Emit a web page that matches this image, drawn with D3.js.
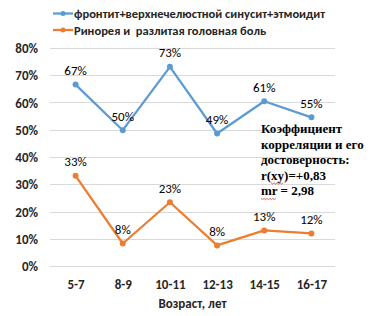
<!DOCTYPE html>
<html><head><meta charset="utf-8">
<script src="https://cdn.jsdelivr.net/npm/d3@7"></script>
<style>body{margin:0;background:#fff}svg{display:block}text{white-space:pre}</style>
</head><body>
<svg id="c" width="372" height="316"></svg>
<script>
const categories = ["5-7","8-9","10-11","12-13","14-15","16-17"];
const seriesNames = ["фронтит+верхнечелюстной синусит+этмоидит","Ринорея и  разлитая головная боль"];
const frontitValues = [0.667, 0.50, 0.732, 0.488, 0.606, 0.547];
const rhinorrheaValues = [0.333, 0.085, 0.236, 0.078, 0.133, 0.122];
const frontitLabels = ["67%","50%","73%","49%","61%","55%"];
const rhinorrheaLabels = ["33%","8%","23%","8%","13%","12%"];
const yTicks = [0,0.1,0.2,0.3,0.4,0.5,0.6,0.7,0.8];
const xTitle = "Возраст, лет";
const noteLines = ["Коэффициент","корреляции и его","достоверность:","r(xy)=+0,83","mr = 2,98"];
const squiggles = [null,null,null,[2,4],[0,2]];
const colors = ["#5B9BD5","#ED7D31"];

const svg = d3.select("#c");
const sans = "Calibri, Carlito, 'Open Sans', 'Liberation Sans', sans-serif";
const x = d3.scalePoint().domain(categories).range([52,335]).padding(0.5);
const y = d3.scaleLinear().domain([0,0.8]).range([266.7,48.3]);

svg.append("g").selectAll("line").data(yTicks).join("line")
  .attr("x1",50).attr("x2",335).attr("y1",d=>y(d)).attr("y2",d=>y(d))
  .attr("stroke","#d9d9d9").attr("stroke-width",1).attr("shape-rendering","crispEdges");

const ya = svg.append("g").attr("transform","translate(38,0)")
  .call(d3.axisLeft(y).tickValues(yTicks).tickFormat(d3.format(".0%")).tickSize(0).tickPadding(0));
ya.select(".domain").remove();
ya.selectAll("text").attr("font-family",sans).attr("font-size",13).attr("font-weight","bold").attr("fill","#262626");

const xa = svg.append("g").attr("transform","translate(0,279.5)")
  .call(d3.axisBottom(x).tickSize(0).tickPadding(0));
xa.select(".domain").remove();
xa.selectAll("text").attr("font-family",sans).attr("font-size",13).attr("font-weight","bold").attr("fill","#262626");

svg.append("text").attr("x",192.5).attr("y",307.5).attr("text-anchor","middle")
  .attr("font-family",sans).attr("font-size",13).attr("font-weight","bold").attr("fill","#262626").text(xTitle);

const series = [frontitValues, rhinorrheaValues];
const labels = [frontitLabels, rhinorrheaLabels];
const line = d3.line().x((d,i)=>x(categories[i])).y(d=>y(d));
series.forEach((vals,s)=>{
  const g = svg.append("g");
  g.append("path").attr("d",line(vals)).attr("fill","none").attr("stroke",colors[s]).attr("stroke-width",2.25).attr("stroke-linejoin","round");
  g.selectAll("circle").data(vals).join("circle").attr("cx",(d,i)=>x(categories[i])).attr("cy",d=>y(d)).attr("r",3).attr("fill",colors[s]);
  g.selectAll("text").data(vals).join("text").attr("x",(d,i)=>x(categories[i])).attr("y",d=>y(d)-9.5)
    .attr("text-anchor","middle").attr("font-family",sans).attr("font-size",13).attr("fill","#000")
    .text((d,i)=>labels[s][i]);
});

const lg = svg.append("g");
seriesNames.forEach((n,i)=>{
  const yy = 13.5 + i*16.5;
  lg.append("line").attr("x1",53).attr("x2",73).attr("y1",yy).attr("y2",yy).attr("stroke",colors[i]).attr("stroke-width",2.25);
  lg.append("circle").attr("cx",63).attr("cy",yy).attr("r",2.5).attr("fill",colors[i]);
  lg.append("text").attr("x",74).attr("y",yy+4.5).attr("font-family",sans).attr("font-size",12.5).attr("font-weight","bold").attr("fill","#262626").text(n);
});

const note = svg.append("g");
noteLines.forEach((t,i)=>{
  const by = 133+i*15.6;
  const tx = note.append("text").attr("x",261).attr("y",by)
    .attr("font-family","'Liberation Serif','Times New Roman',serif").attr("font-size",13).attr("font-weight","bold").attr("fill","#000").text(t);
  const sq = squiggles[i];
  if (sq) {
    const n = tx.node();
    const x0 = 261 + (sq[0]>0 ? n.getSubStringLength(0,sq[0]) : 0);
    const x1 = 261 + n.getSubStringLength(0,sq[1]);
    const pts = [];
    for (let k=0, xx=x0; xx<=x1; xx+=1.5, k++) pts.push([xx, by+3 + (k%2?1.2:0)]);
    note.append("path").attr("d",d3.line()(pts)).attr("fill","none").attr("stroke","#e03030").attr("stroke-width",0.8);
  }
});
</script>
</body></html>
